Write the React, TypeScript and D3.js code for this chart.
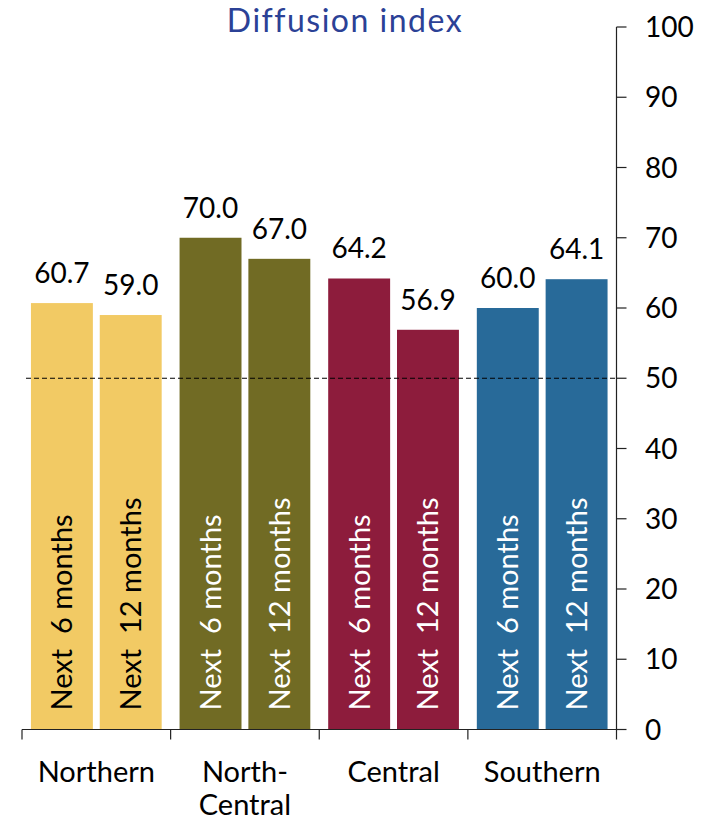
import React from "react";
import * as d3 from "d3";

const categories = ["Northern", "North-Central", "Central", "Southern"];
const categoryLines = [["Northern"], ["North-", "Central"], ["Central"], ["Southern"]];
const horizons = ["Next  6 months", "Next  12 months"];
const next6 = [60.7, 70.0, 64.2, 60.0];
const next12 = [59.0, 67.0, 56.9, 64.1];
const colors = ["#F2CA64", "#716B24", "#8D1C3C", "#286A99"];
const textColors = ["#000000", "#FFFFFF", "#FFFFFF", "#FFFFFF"];
const yTicks = [0, 10, 20, 30, 40, 50, 60, 70, 80, 90, 100];
const threshold = 50;
const title = "Diffusion index";

const W = 709;
const H = 822;
const left = 22;
const right = 616.5;
const top = 27;
const bottom = 729.5;
const FONT = "Lato, 'Open Sans', sans-serif";

export default function App() {
  const x0 = d3.scaleBand<string>().domain(categories).range([left, right]).paddingInner(0).paddingOuter(0);
  const x1 = d3
    .scaleBand<string>()
    .domain(horizons)
    .range([0, x0.bandwidth()])
    .paddingInner(0.1)
    .paddingOuter(0.13);
  const y = d3.scaleLinear().domain([0, 100]).range([bottom, top]);

  const series = [next6, next12];
  const fs = 29;

  return (
    <svg width={W} height={H} style={{ position: "absolute", left: 0, top: 0, background: "#fff" }}>
      <text
        x={345}
        y={32}
        textAnchor="middle"
        fontFamily={FONT}
        fontSize={32}
        letterSpacing={1.5}
        fill="#2B4196"
      >
        {title}
      </text>

      {categories.map((c, ci) =>
        horizons.map((h, hi) => {
          const v = series[hi][ci];
          const bx = (x0(c) as number) + (x1(h) as number);
          const bw = x1.bandwidth();
          const cx = bx + bw / 2;
          return (
            <g key={c + h}>
              <rect x={bx} y={y(v)} width={bw} height={y(0) - y(v)} fill={colors[ci]} />
              <text
                x={cx}
                y={y(v) - 20}
                textAnchor="middle"
                fontFamily={FONT}
                fontSize={28}
                fill="#000"
              >
                {v.toFixed(1)}
              </text>
              <text
                transform={`translate(${cx + fs * 0.36},${bottom - 19}) rotate(-90)`}
                fontFamily={FONT}
                fontSize={fs}
                fill={textColors[ci]}
                style={{ whiteSpace: "pre" }}
                xmlSpace="preserve"
              >
                {h}
              </text>
            </g>
          );
        })
      )}

      <line
        x1={left + 4}
        x2={right}
        y1={y(threshold)}
        y2={y(threshold)}
        stroke="#000"
        strokeWidth={1}
        strokeDasharray="5 3"
      />

      {/* x axis */}
      <line x1={left} x2={right} y1={bottom} y2={bottom} stroke="#222" strokeWidth={1.2} />
      {categories.map((c) => (
        <line
          key={"t" + c}
          x1={x0(c) as number}
          x2={x0(c) as number}
          y1={bottom}
          y2={bottom + 10}
          stroke="#222"
          strokeWidth={1.2}
        />
      ))}
      {categories.map((c, ci) => (
        <text
          key={"l" + c}
          x={(x0(c) as number) + x0.bandwidth() / 2}
          y={782}
          textAnchor="middle"
          fontFamily={FONT}
          fontSize={29}
          fill="#000"
        >
          {categoryLines[ci].map((line, li) => (
            <tspan key={li} x={(x0(c) as number) + x0.bandwidth() / 2} dy={li === 0 ? 0 : 33}>
              {line}
            </tspan>
          ))}
        </text>
      ))}

      {/* y axis */}
      <line x1={right} x2={right} y1={top} y2={bottom + 10} stroke="#222" strokeWidth={1.2} />
      {yTicks.map((t) => (
        <g key={"y" + t}>
          <line x1={right} x2={right + 10} y1={y(t)} y2={y(t)} stroke="#222" strokeWidth={1.2} />
          <text x={645} y={y(t) + 10} fontFamily={FONT} fontSize={28} fill="#000">
            {t}
          </text>
        </g>
      ))}
    </svg>
  );
}
